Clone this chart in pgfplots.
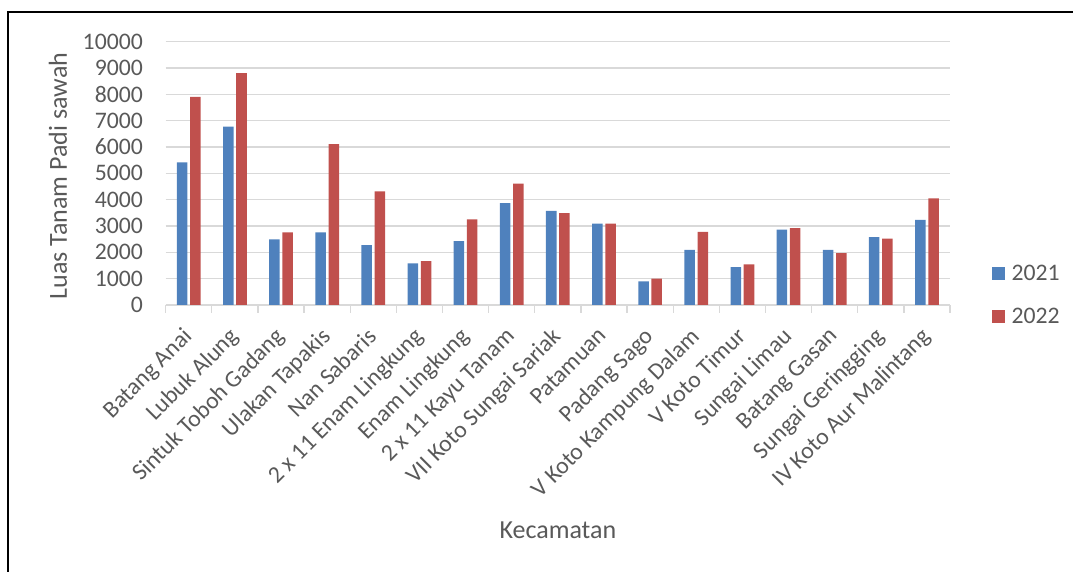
\documentclass[border=0pt]{standalone}
\usepackage{fontspec}
\setmainfont{Carlito}
\usepackage{pgfplots}
\pgfplotsset{compat=1.18}
\definecolor{bar21}{HTML}{4F81BD}
\definecolor{bar22}{HTML}{C0504D}
\definecolor{txt}{HTML}{595959}
\definecolor{grd}{HTML}{D9D9D9}
\newcommand{\tickfont}{\fontsize{23.7pt}{28pt}\selectfont}
\newcommand{\labfont}{\fontsize{26pt}{31pt}\selectfont}

\begin{document}
\begin{tikzpicture}[x=1pt,y=1pt]
\path[use as bounding box] (0,0) rectangle (1073,572);
% chart frame (only top and left edges are inside the picture)
\draw[line width=1.3pt] (8,0) -- (8,560) -- (1073,560);
\begin{axis}[
    at={(165.7pt,267pt)}, anchor=south west,
    scale only axis, width=784.3pt, height=263.3pt,
    xmin=-0.5, xmax=16.5, ymin=0, ymax=10000,
    ybar, bar width=0.228,
    xtick={0,...,16},
    xticklabels={Batang Anai,Lubuk Alung,Sintuk Toboh Gadang,Ulakan Tapakis,Nan Sabaris,2 x 11 Enam Lingkung,Enam Lingkung,2 x 11 Kayu Tanam,VII Koto Sungai Sariak,Patamuan,Padang Sago,V Koto Kampung Dalam,V Koto Timur,Sungai Limau,Batang Gasan,Sungai Geringging,IV Koto Aur Malintang},
    minor xtick={-0.5,0.5,...,16.5},
    ytick={0,1000,...,10000},
    major tick length=0pt, minor tick length=8pt,
    tick align=outside,
    x tick style={draw=grd, line width=1.3pt},
    y tick style={draw=none},
    axis x line*=bottom, axis y line*=left,
    x axis line style={draw=grd, line width=1.3pt, -},
    y axis line style={draw=none},
    ymajorgrids, grid style={draw=grd, line width=1.3pt},
    scaled y ticks=false,
    /pgf/number format/assume math mode=true,
    /pgf/number format/1000 sep={},
    yticklabel style={font=\tickfont, text=txt, inner sep=0pt, anchor=east, xshift=-22.7pt},
    xticklabel style={font=\tickfont, text=txt, inner sep=0pt, xshift=-7pt, yshift=-21pt, rotate=45, anchor=north east},
    xlabel={Kecamatan}, ylabel={Luas Tanam Padi sawah},
    xlabel style={font=\labfont, text=txt, at={(axis description cs:0.5,-0.886)}, anchor=base},
    ylabel style={font=\labfont, text=txt, at={(axis description cs:-0.1373,0.49)}, anchor=center},
    legend style={at={(axis description cs:1.0536,0.038)}, anchor=west, draw=none, fill=none,
        inner sep=0pt, row sep=26pt, column sep=6.3pt, font=\tickfont,
        nodes={inner sep=0pt, text=txt}},
    legend image code/.code={\fill[#1] (0pt,-6.5pt) rectangle (13pt,6.5pt);},
]
\addplot[fill=bar21, draw=none, bar shift=-0.143] coordinates {
(0,5420) (1,6770) (2,2490) (3,2760) (4,2270) (5,1580) (6,2430) (7,3870) (8,3570)
(9,3090) (10,900) (11,2090) (12,1440) (13,2860) (14,2090) (15,2580) (16,3230)};
\addplot[fill=bar22, draw=none, bar shift=0.143] coordinates {
(0,7900) (1,8810) (2,2760) (3,6110) (4,4320) (5,1670) (6,3250) (7,4610) (8,3490)
(9,3090) (10,1000) (11,2780) (12,1540) (13,2920) (14,1970) (15,2520) (16,4050)};
\legend{2021,2022}
\end{axis}
\end{tikzpicture}
\end{document}
